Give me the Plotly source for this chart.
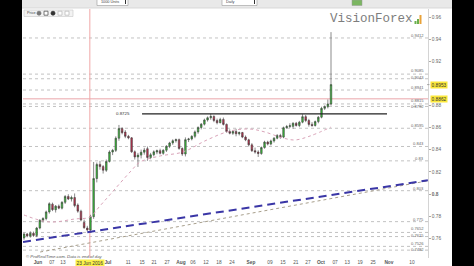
import plotly.graph_objects as go

# ---------------- data (EUR/GBP daily) ----------------
opens = [0.7602, 0.7638, 0.7620, 0.7645, 0.7625, 0.7692, 0.7762, 0.7778, 0.7838, 0.7908,
         0.7858, 0.7890, 0.7872, 0.7925, 0.7978, 0.7955, 0.7968, 0.7900, 0.7845, 0.7742,
         0.7692, 0.7675, 0.7795, 0.8140, 0.8268, 0.8248, 0.8215, 0.8295, 0.8380, 0.8395,
         0.8505, 0.8592, 0.8560, 0.8522, 0.8508, 0.8382, 0.8335, 0.8352, 0.8378, 0.8410,
         0.8330, 0.8355, 0.8380, 0.8392, 0.8368, 0.8396, 0.8432, 0.8462, 0.8482, 0.8492,
         0.8412, 0.8362, 0.8492, 0.8498, 0.8522, 0.8562, 0.8602, 0.8632, 0.8670, 0.8690,
         0.8702, 0.8665, 0.8645, 0.8675, 0.8630, 0.8565, 0.8550, 0.8566, 0.8545, 0.8556,
         0.8515, 0.8490, 0.8445, 0.8392, 0.8380, 0.8366, 0.8420, 0.8470, 0.8452, 0.8480,
         0.8505, 0.8530, 0.8515, 0.8600, 0.8610, 0.8612, 0.8640, 0.8620, 0.8650, 0.8700,
         0.8665, 0.8630, 0.8620, 0.8655, 0.8695, 0.8775, 0.8790, 0.8815]
highs = [0.7650, 0.7648, 0.7662, 0.7660, 0.7702, 0.7772, 0.7790, 0.7850, 0.7925, 0.7922,
         0.7900, 0.7905, 0.7935, 0.7990, 0.7998, 0.7985, 0.8005, 0.7915, 0.7858, 0.7768,
         0.7712, 0.7812, 0.8290, 0.8285, 0.8300, 0.8262, 0.8312, 0.8395, 0.8408, 0.8522,
         0.8625, 0.8605, 0.8578, 0.8535, 0.8515, 0.8395, 0.8372, 0.8402, 0.8418, 0.8430,
         0.8372, 0.8395, 0.8402, 0.8410, 0.8405, 0.8442, 0.8472, 0.8495, 0.8502, 0.8502,
         0.8422, 0.8512, 0.8508, 0.8532, 0.8575, 0.8612, 0.8642, 0.8682, 0.8702, 0.8725,
         0.8712, 0.8682, 0.8690, 0.8692, 0.8638, 0.8585, 0.8578, 0.8590, 0.8565, 0.8562,
         0.8530, 0.8500, 0.8460, 0.8420, 0.8396, 0.8430, 0.8482, 0.8482, 0.8492, 0.8515,
         0.8542, 0.8545, 0.8610, 0.8625, 0.8640, 0.8650, 0.8652, 0.8662, 0.8722, 0.8715,
         0.8680, 0.8650, 0.8665, 0.8705, 0.8790, 0.8802, 0.8855, 0.9465]
lows = [0.7585, 0.7608, 0.7605, 0.7612, 0.7610, 0.7680, 0.7742, 0.7762, 0.7822, 0.7845,
        0.7832, 0.7862, 0.7860, 0.7910, 0.7945, 0.7932, 0.7880, 0.7830, 0.7752, 0.7685,
        0.7662, 0.7650, 0.7775, 0.8105, 0.8220, 0.8185, 0.8200, 0.8285, 0.8352, 0.8380,
        0.8482, 0.8540, 0.8505, 0.8495, 0.8372, 0.8312, 0.8245, 0.8322, 0.8356, 0.8300,
        0.8315, 0.8340, 0.8360, 0.8358, 0.8355, 0.8380, 0.8415, 0.8445, 0.8465, 0.8400,
        0.8345, 0.8340, 0.8470, 0.8485, 0.8505, 0.8545, 0.8585, 0.8620, 0.8655, 0.8672,
        0.8650, 0.8630, 0.8640, 0.8620, 0.8555, 0.8540, 0.8535, 0.8522, 0.8530, 0.8505,
        0.8478, 0.8430, 0.8380, 0.8365, 0.8335, 0.8355, 0.8410, 0.8440, 0.8440, 0.8465,
        0.8495, 0.8500, 0.8505, 0.8590, 0.8598, 0.8590, 0.8610, 0.8605, 0.8640, 0.8650,
        0.8610, 0.8608, 0.8610, 0.8640, 0.8685, 0.8760, 0.8775, 0.8800]
closes = [0.7638, 0.7620, 0.7645, 0.7625, 0.7692, 0.7762, 0.7778, 0.7838, 0.7912, 0.7858,
          0.7890, 0.7872, 0.7925, 0.7978, 0.7955, 0.7968, 0.7895, 0.7845, 0.7765, 0.7695,
          0.7675, 0.7795, 0.8140, 0.8268, 0.8248, 0.8215, 0.8295, 0.8380, 0.8395, 0.8505,
          0.8592, 0.8555, 0.8522, 0.8508, 0.8382, 0.8335, 0.8352, 0.8378, 0.8398, 0.8330,
          0.8355, 0.8382, 0.8392, 0.8368, 0.8396, 0.8432, 0.8462, 0.8482, 0.8492, 0.8412,
          0.8362, 0.8492, 0.8498, 0.8522, 0.8562, 0.8602, 0.8632, 0.8670, 0.8690, 0.8702,
          0.8665, 0.8645, 0.8675, 0.8630, 0.8565, 0.8550, 0.8566, 0.8545, 0.8556, 0.8515,
          0.8490, 0.8445, 0.8392, 0.8380, 0.8366, 0.8420, 0.8470, 0.8452, 0.8480, 0.8505,
          0.8530, 0.8515, 0.8600, 0.8610, 0.8618, 0.8640, 0.8620, 0.8650, 0.8700, 0.8665,
          0.8630, 0.8620, 0.8655, 0.8695, 0.8775, 0.8790, 0.8815, 0.8990]
day_index = list(range(len(opens)))  # trading-day number, 25 May 2016 .. 7 Oct 2016

# moving average (pink dotted), read at sample days
ma_days = [0, 7.9, 16.1, 20.9, 23.7, 27.2, 33.8, 36.7, 43.0, 50.2, 57.8, 65.1, 71.4, 76.1, 81.8, 85.6, 90.4, 97]
ma_values = [0.7810, 0.7747, 0.7774, 0.7792, 0.7882, 0.7995, 0.8208, 0.8290, 0.8344, 0.8380,
             0.8489, 0.8570, 0.8588, 0.8561, 0.8507, 0.8489, 0.8525, 0.8606]

# horizontal levels
level_values = [0.9412, 0.9085, 0.9043, 0.8941, 0.8815, 0.8792, 0.8595, 0.843, 0.83, 0.803,
                0.775, 0.7652, 0.7615, 0.7526, 0.7492]
level_labels = ["0.9412", "0.9085", "0.9043", "0.8941", "0.8815", "0.8792", "0.8595", "0.843",
                "0.83", "0.803", "0.775", "0.7652", "0.7615", "0.7526", "0.7492"]
resistance_value = 0.8725
resistance_label = "0.8725"
resistance_days = [37.3, 114.7]
current_value = 0.8862
current_label = "0.8862"
last_value = 0.8990
last_label = "0.8953"
event_day = 20.8
event_label = "23 Jun 2016"

# trend lines
blue_trend_days = [-0.3, 127.6]
blue_trend_values = [0.7566, 0.8124]
dot_trend_days = [5.1, 127.3]
dot_trend_values = [0.7475, 0.8118]

# axes
y_tick_vals = [0.76, 0.78, 0.80, 0.82, 0.84, 0.86, 0.88, 0.92, 0.94, 0.96]
y_tick_text = ["0.76", "0.78", "<b>0.8</b>", "0.82", "0.84", "0.86", "0.88", "0.92", "0.94", "0.96"]
x_tick_pos = [4.4, 8.8, 12.3, 26.5, 32.9, 37.3, 41.1, 45.2, 49.6, 53.4, 57.5, 61.6, 65.7,
              71.7, 77.7, 81.8, 85.9, 89.7, 93.8, 98.3, 102.1, 106.2, 110.3, 115.3, 122.6]
x_tick_text = ["<b>Jun</b>", "07", "13", "<b>Jul</b>", "11", "15", "21", "27", "<b>Aug</b>", "06",
               "12", "18", "24", "<b>Sep</b>", "09", "15", "21", "27", "<b>Oct</b>", "07", "13",
               "19", "25", "<b>Nov</b>", "10"]

# ---------------- figure ----------------
W, H = 474, 266
L, R, T, B = 23, 428, 9, 258
FONT = "Liberation Sans"


def px_x(p):
    return (p - L) / (R - L)


def px_y(p):
    return (B - p) / (B - T)


fig = go.Figure()

fig.add_trace(go.Scatter(x=dot_trend_days, y=dot_trend_values, mode="lines",
                         line=dict(color="#a89f8c", width=1, dash="dot"), hoverinfo="skip"))
fig.add_trace(go.Scatter(x=blue_trend_days, y=blue_trend_values, mode="lines",
                         line=dict(color="#3a36a6", width=2, dash="8px,5px"), hoverinfo="skip"))
fig.add_trace(go.Scatter(x=ma_days, y=ma_values, mode="lines", line_shape="spline",
                         line=dict(color="#d9a3b8", width=1, dash="dot"), hoverinfo="skip"))
fig.add_trace(go.Candlestick(
    x=day_index, open=opens, high=highs, low=lows, close=closes,
    increasing=dict(line=dict(color="#3c3c3c", width=0.6), fillcolor="#38c238"),
    decreasing=dict(line=dict(color="#3c3c3c", width=0.6), fillcolor="#c2304e"),
    whiskerwidth=0, hoverinfo="skip"))

shapes = []
annotations = []

# dotted level lines + labels (label offsets keep close labels apart)
label_shift = {"0.9085": 3.2, "0.9043": 1.4, "0.8815": 3.6, "0.8792": 0.2,
               "0.7652": 3.6, "0.7615": 1.2, "0.7526": 2.6, "0.7492": 0.4}
for v, t in zip(level_values, level_labels):
    shapes.append(dict(type="line", xref="paper", yref="y", x0=0, x1=1, y0=v, y1=v,
                       line=dict(color="#b3b3b3", width=0.8, dash="dot"), layer="below"))
    annotations.append(dict(xref="paper", yref="y", x=px_x(426), y=v, yshift=label_shift.get(t, 2.6),
                            text=t, showarrow=False, xanchor="right", yanchor="middle",
                            font=dict(size=4.1, color="#666", family=FONT)))

# current price line (pink)
shapes.append(dict(type="line", xref="paper", yref="y", x0=0, x1=1, y0=current_value, y1=current_value,
                   line=dict(color="#f1c3c6", width=1.6), layer="below"))
# event vertical line
shapes.append(dict(type="line", xref="x", yref="paper", x0=event_day, x1=event_day, y0=0, y1=1,
                   line=dict(color="#f0a8a8", width=1), layer="below"))
# resistance line
shapes.append(dict(type="line", xref="x", yref="y", x0=resistance_days[0], x1=resistance_days[1],
                   y0=resistance_value, y1=resistance_value, line=dict(color="#222", width=1.1)))
annotations.append(dict(xref="x", yref="y", x=resistance_days[0] - 3.2, y=resistance_value,
                        text=resistance_label, showarrow=False, xanchor="right", yanchor="middle",
                        font=dict(size=4.4, color="#333", family=FONT)))

# yellow price boxes on right axis
for v, t in [(last_value, last_label), (current_value, current_label)]:
    annotations.append(dict(xref="paper", yref="y", x=px_x(429.5), y=v, text=t, showarrow=False,
                            xanchor="left", yanchor="middle", bgcolor="#fbe83a", borderpad=0.6,
                            font=dict(size=4.8, color="#333", family=FONT)))
shapes.append(dict(type="line", xref="paper", yref="y", x0=px_x(427), x1=px_x(429.5),
                   y0=last_value, y1=last_value, line=dict(color="#777", width=0.6)))

# event date highlighted label on x axis
annotations.append(dict(xref="x", yref="paper", x=event_day + 0.1, y=px_y(263), text=event_label,
                        showarrow=False, xanchor="center", yanchor="middle", bgcolor="#fbf24a",
                        borderpad=0.5, font=dict(size=4.8, color="#333", family=FONT)))

# copyright
annotations.append(dict(xref="paper", yref="paper", x=px_x(24), y=px_y(256),
                        text="<i>© ProRealTime.com. Data is end of day</i>", showarrow=False,
                        xanchor="left", yanchor="middle", font=dict(size=4.3, color="#555", family=FONT)))

# watermark
annotations.append(dict(xref="paper", yref="paper", x=px_x(371), y=px_y(18.5), text="VisionForex",
                        showarrow=False, xanchor="center", yanchor="middle",
                        font=dict(size=12.5, color="#7d7d7d", family="Liberation Mono")))
for (x0, x1, y0, y1, c) in [(417, 419, 19, 24, "#6ab04c"), (419.5, 421.5, 15, 24, "#e8a23a"),
                            (414.5, 416.5, 21, 24, "#6ab04c")]:
    shapes.append(dict(type="rect", xref="paper", yref="paper", x0=px_x(x0), x1=px_x(x1),
                       y0=px_y(y1), y1=px_y(y0), fillcolor=c, line=dict(width=0)))

# toolbar band
shapes.append(dict(type="rect", xref="paper", yref="paper", x0=px_x(0), x1=px_x(474),
                   y0=px_y(8), y1=px_y(0), fillcolor="#e9e9e9", line=dict(width=0)))
shapes.append(dict(type="line", xref="paper", yref="paper", x0=px_x(0), x1=px_x(474),
                   y0=px_y(8), y1=px_y(8), line=dict(color="#d0d0d0", width=0.8)))
for (x0, x1, txt) in [(97, 128, "1000 Units"), (222, 257, "Daily")]:
    shapes.append(dict(type="rect", xref="paper", yref="paper", x0=px_x(x0), x1=px_x(x1),
                       y0=px_y(5.5), y1=px_y(-1), fillcolor="#ffffff", line=dict(color="#999", width=0.6)))
    annotations.append(dict(xref="paper", yref="paper", x=px_x(x0 + 2), y=px_y(2.5), text=txt,
                            showarrow=False, xanchor="left", yanchor="middle",
                            font=dict(size=3.8, color="#444", family=FONT)))
    shapes.append(dict(type="rect", xref="paper", yref="paper", x0=px_x(x1 - 3), x1=px_x(x1 - 2),
                       y0=px_y(4), y1=px_y(0), fillcolor="#333", line=dict(width=0)))
shapes.append(dict(type="rect", xref="paper", yref="paper", x0=px_x(352), x1=px_x(362),
                   y0=px_y(5.5), y1=px_y(0), fillcolor="#7bb661", line=dict(color="#999", width=0.5)))

# "Price" box
shapes.append(dict(type="rect", xref="paper", yref="paper", x0=px_x(24), x1=px_x(73),
                   y0=px_y(16.5), y1=px_y(10), fillcolor="#f3f3f3", line=dict(color="#c8c8c8", width=0.6)))
annotations.append(dict(xref="paper", yref="paper", x=px_x(25), y=px_y(13.2), text="Price",
                        showarrow=False, xanchor="left", yanchor="middle",
                        font=dict(size=3.8, color="#444", family=FONT)))
for (cx, c, kind) in [(39, "#777", "circle"), (46, "#555", "rect"), (53, "#333", "circle"),
                      (60, "#bbb", "rect"), (67, "#bbb", "rect")]:
    shapes.append(dict(type=kind, xref="paper", yref="paper", x0=px_x(cx - 2), x1=px_x(cx + 2),
                       y0=px_y(15.2), y1=px_y(11.2), fillcolor="white" if kind == "rect" else c,
                       line=dict(color=c, width=0.8)))

# black side bands
shapes.append(dict(type="rect", xref="paper", yref="paper", x0=px_x(0), x1=px_x(22),
                   y0=px_y(266), y1=px_y(0), fillcolor="#000", line=dict(width=0), layer="above"))
shapes.append(dict(type="rect", xref="paper", yref="paper", x0=px_x(452), x1=px_x(474),
                   y0=px_y(266), y1=px_y(0), fillcolor="#000", line=dict(width=0), layer="above"))

x_lo = (L - 24) / 3.165
x_hi = (R - 24) / 3.165
y_lo = 0.8 + (194 - B) / 1105
y_hi = 0.8 + (194 - T) / 1105

fig.update_layout(
    width=W, height=H,
    margin=dict(l=L, r=W - R, t=T, b=H - B, pad=0, autoexpand=False),
    paper_bgcolor="white", plot_bgcolor="white",
    showlegend=False,
    shapes=shapes, annotations=annotations,
    font=dict(family=FONT),
    xaxis=dict(range=[x_lo, x_hi], showgrid=False, zeroline=False, showline=False,
               rangeslider=dict(visible=False), tickmode="array", tickvals=x_tick_pos,
               ticktext=x_tick_text, ticks="", tickfont=dict(size=4.8, color="#555", family=FONT),
               automargin=False),
    yaxis=dict(range=[y_lo, y_hi], side="right", showgrid=False, zeroline=False, showline=True,
               linecolor="#d4d4d4", linewidth=0.8, tickmode="array", tickvals=y_tick_vals,
               ticktext=y_tick_text, ticks="outside", ticklen=2, tickcolor="#aaa", tickwidth=0.5,
               tickfont=dict(size=4.8, color="#666", family=FONT), automargin=False),
)

fig.write_html("out.html")
